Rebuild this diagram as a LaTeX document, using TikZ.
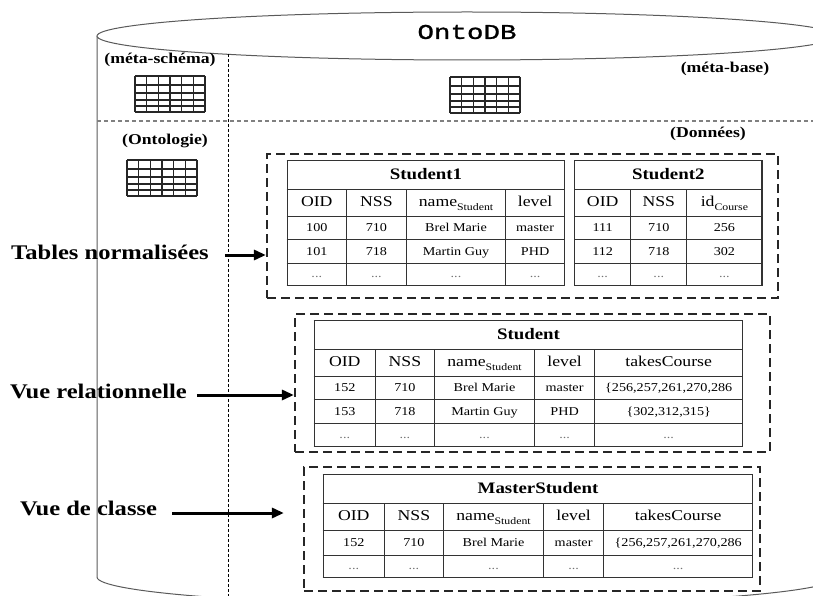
\documentclass[tikz,border=0pt]{standalone}
\usepackage{fontspec}
\setmainfont[FakeStretch=1.18]{Liberation Serif}
\newfontfamily\ontofont[FakeStretch=1.31,FakeBold=1.2]{Liberation Mono}
\usepackage{xcolor}
\usepackage{array,colortbl}
\usepackage{tikz}
\usetikzlibrary{arrows.meta,positioning,fit}
\definecolor{cylgray}{HTML}{5A5A5A}

\newcommand{\vl}{\fontsize{12}{14}\selectfont}
\newcommand{\hd}{\fontsize{15}{18}\selectfont}
\newcommand{\ttl}{\fontsize{16}{19}\selectfont\bfseries}
\newcommand{\sub}[1]{\raisebox{-3.5pt}{\fontsize{10}{12}\selectfont #1}}
\newcommand{\rs}[1]{\rule[-0.35\dimexpr#1\relax]{0pt}{#1}}
\newcommand{\etc}{\textcolor{black!55}{...}}
\newcolumntype{C}[1]{>{\centering\arraybackslash\vl}p{#1}}
\setlength{\tabcolsep}{0pt}
\setlength{\arrayrulewidth}{1.1pt}
\arrayrulecolor{black!80}

\begin{document}
\begin{tikzpicture}[x=1pt,y=-1pt,
    cyl/.style={draw=cylgray,line width=1pt},
    hsep/.style={draw=black!50,dash pattern=on 4pt off 3pt,line width=1.2pt},
    vsep/.style={draw=black,dash pattern=on 3pt off 2pt,line width=0.9pt},
    dbox/.style={draw=black!85,dash pattern=on 9pt off 5pt,line width=2.2pt,inner sep=0pt},
    tbl/.style={inner sep=0pt,anchor=north west,font=\fontsize{8}{9}\selectfont},
    lbl/.style={font=\fontsize{20.8}{24}\selectfont\bfseries,inner sep=0pt,anchor=west},
    tag/.style={font=\fontsize{15}{18}\selectfont\bfseries,inner sep=0pt},
    arr/.style={-{Triangle[length=12pt,width=10pt]},line width=3pt},
    gridline/.style={draw=black!85,line width=1.2pt}]
  \useasboundingbox (0,0) rectangle (813,596);
  \clip (0,0) rectangle (813,596);

  % cylinder
  \draw[cyl] (97,36) -- (97,577)
    arc[start angle=180,end angle=0,x radius=370,y radius=28] -- (837,36);
  \draw[cyl,fill=white] (467,36) ellipse[x radius=370,y radius=24];
  \node[font=\ontofont\fontsize{21}{24}\selectfont] (title) at (467,32) {OntoDB};

  % separators
  \draw[hsep] (97,121) -- (813,121);
  \draw[vsep] (228,54) -- (228,596);

  \node[tag] (msch) at (160,60) {(méta-schéma)};
  \node[tag] (mbase) at (725,69) {(méta-base)};
  \node[tag] (onto) at (165,141) {(Ontologie)};
  \node[tag] (donn) at (708,134) {(Données)};

  % small grids
  \foreach \gx/\gy in {135/76,450/77,127/160}{
    \foreach \i in {0,...,6}
      \draw[gridline] (\gx+\i*11.67,\gy) -- ++(0,36);
    \foreach \j in {0,9,17,24,30,36}
      \draw[gridline] (\gx,\gy+\j) -- ++(70,0);
  }

  % tables
  \node[tbl] (s1) at (286.5,159.5) {%
    \begin{tabular}{|C{58pt}|C{59pt}|C{98pt}|C{58pt}|}\hline
    \multicolumn{4}{|c|}{\rs{28pt}\ttl Student1}\\\hline
    \hd OID\rs{26pt} & \hd NSS & \hd name\sub{Student} & \hd level\\\hline
    100\rs{22pt} & 710 & Brel Marie & master\\\hline
    101\rs{23pt} & 718 & Martin Guy & PHD\\\hline
    \etc\rs{21pt} & \etc & \etc & \etc\\\hline
    \end{tabular}};
  \node[tbl,anchor=west,right=8.5pt of s1] (s2) {%
    \begin{tabular}{|C{55pt}|C{55pt}|C{74pt}|}\hline
    \multicolumn{3}{|c|}{\rs{28pt}\ttl Student2}\\\hline
    \hd OID\rs{26pt} & \hd NSS & \hd id\sub{Course}\\\hline
    111\rs{22pt} & 710 & 256\\\hline
    112\rs{23pt} & 718 & 302\\\hline
    \etc\rs{21pt} & \etc & \etc\\\hline
    \end{tabular}};
  \node[tbl] (st) at (313.5,319.5) {%
    \begin{tabular}{|C{60pt}|C{58pt}|C{99pt}|C{59pt}|C{147pt}|}\hline
    \multicolumn{5}{|c|}{\rs{28pt}\ttl Student}\\\hline
    \hd OID\rs{26pt} & \hd NSS & \hd name\sub{Student} & \hd level & \hd takesCourse\\\hline
    152\rs{22pt} & 710 & Brel Marie & master & \{256,257,261,270,286\\\hline
    153\rs{23pt} & 718 & Martin Guy & PHD & \{302,312,315\}\\\hline
    \etc\rs{22pt} & \etc & \etc & \etc & \etc\\\hline
    \end{tabular}};
  \node[tbl] (ms) at (322.5,473.5) {%
    \begin{tabular}{|C{60pt}|C{58pt}|C{99pt}|C{59pt}|C{148pt}|}\hline
    \multicolumn{5}{|c|}{\rs{28pt}\ttl MasterStudent}\\\hline
    \hd OID\rs{26pt} & \hd NSS & \hd name\sub{Student} & \hd level & \hd takesCourse\\\hline
    152\rs{24pt} & 710 & Brel Marie & master & \{256,257,261,270,286\\\hline
    \etc\rs{21pt} & \etc & \etc & \etc & \etc\\\hline
    \end{tabular}};

  % dashed groups
  \node[dbox,fit={(267,154) (778,298)}] (tn) {};
  \node[dbox,fit={(295,314) (770,452)}] (vr) {};
  \node[dbox,fit={(304,467) (760,591)}] (vc) {};

  % views
  \node[lbl] (lbltn) at (11,252) {Tables normalisées};
  \node[lbl] (lblvr) at (10,391) {Vue relationnelle};
  \node[lbl] (lblvc) at (20,508) {Vue de classe};

  \coordinate (atn) at ([yshift=-3pt]lbltn.east);
  \coordinate (avr) at ([yshift=-4pt]lblvr.east);
  \coordinate (avc) at ([yshift=-5pt]lblvc.east);
  \draw[arr,shorten <=16pt] (atn) -- (atn -| tn.west);
  \draw[arr,shorten <=10pt] (avr) -- (avr -| vr.west);
  \draw[arr,shorten <=15pt,shorten >=19pt] (avc) -- (avc -| vc.west);
\end{tikzpicture}
\end{document}
